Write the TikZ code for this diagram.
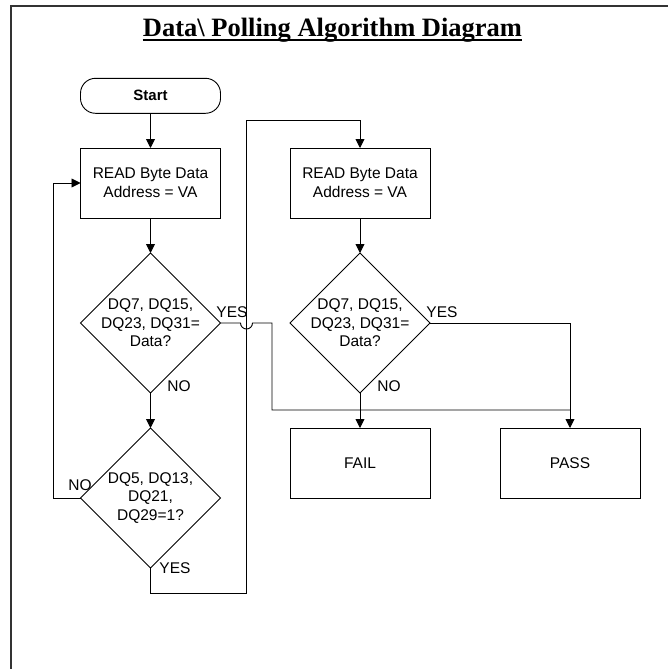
\documentclass[tikz,border=0pt]{standalone}
\usepackage{fontspec}
\setmainfont{Liberation Sans}
\newfontfamily\titlefont{Liberation Serif}
\usetikzlibrary{shapes.geometric,arrows.meta,calc}
\begin{document}
\begin{tikzpicture}[x=1pt,y=-1pt,
  every path/.style={line width=0.9pt},
  txt/.style={font=\fontsize{15.5}{18.5}\selectfont, align=center, inner sep=0pt},
  proc/.style={draw, rectangle, minimum width=140pt, minimum height=70pt, inner sep=0pt, outer sep=0pt, txt, font=\fontsize{15.5}{19}\selectfont},
  term/.style={draw, rectangle, rounded corners=15pt, minimum width=140pt, minimum height=35pt, inner sep=0pt, outer sep=0pt, font=\fontsize{15}{18}\selectfont\bfseries},
  dia/.style={draw, diamond, aspect=1, minimum width=140pt, minimum height=140pt, inner sep=0pt, outer sep=0pt},
  lbl/.style={font=\fontsize{15.5}{18.5}\selectfont, inner sep=0pt},
  arr/.style={-{Triangle[width=9pt,length=9pt]}}
]
\useasboundingbox (0,0) rectangle (668,669);
% frame
\draw[line width=2pt, black!80] (10.5,669) -- (10.5,6.5) -- (668,6.5);
% title
\node[anchor=base, inner sep=0pt, font=\titlefont\fontsize{26.5}{30}\selectfont\bfseries] (title) at (332.5,36.7) {Data\textbackslash{} Polling Algorithm Diagram};
\draw[line width=1.5pt] ($(title.base west)+(0,3.3)$) -- ($(title.base east)+(0,3.3)$);
% nodes
\node[term] (start) at (150.5,95.8) {Start};
\node[proc] (read1) at (150.5,183) {READ Byte Data\\Address = VA};
\node[proc] (read2) at (360,183) {READ Byte Data\\Address = VA};
\node[dia] (d1) at (150.5,323) {};
\node[txt] (t1) at (d1.center) {DQ7, DQ15,\\DQ23, DQ31=\\Data?};
\node[dia] (d2) at (360,323) {};
\node[txt] (t2) at (d2.center) {DQ7, DQ15,\\DQ23, DQ31=\\Data?};
\node[dia] (d3) at (150.5,498) {};
\node[txt] (t3) at (d3.center) {DQ5, DQ13,\\DQ21,\\DQ29=1?};
\node[proc] (fail) at (360,463) {FAIL};
\node[proc] (pass) at (570,463) {PASS};
% labels
\node[lbl] (yes1) at (232,312) {YES};
\node[lbl] (no1) at (179,386) {NO};
\node[lbl] (yes2) at (442,312) {YES};
\node[lbl] (no2) at (389,386) {NO};
\node[lbl] (no3) at (80,485.5) {NO};
\node[lbl] (yes3) at (175,568) {YES};
% helper coordinates
\coordinate (h1) at (240.5,323);
\coordinate (c1) at (272,323);
\coordinate (c2) at (272,410);
\coordinate (j) at (570,410);
\coordinate (l1) at (53,498);
\coordinate (y1) at (246.5,593);
\coordinate (y2) at (246.5,120);
% connectors
\draw[arr] (start) -- (read1);
\draw[arr] (read1) -- (d1.north);
\draw[arr] (d1.south) -- (d3.north);
\draw[arr] (d3.west) -- (l1) |- (read1.west);
\draw[arr] (d3.south) |- (y1) -- (y2) -| (read2.north);
\draw[arr] (read2) -- (d2.north);
\draw[arr] (d2.south) -- (fail.north);
\draw[arr] (d2.east) -| (pass.north);
\draw (d1.east) -- (h1) arc[start angle=180, end angle=0, radius=6] -- (c1) -- (c2) -- (j);
\end{tikzpicture}
\end{document}
